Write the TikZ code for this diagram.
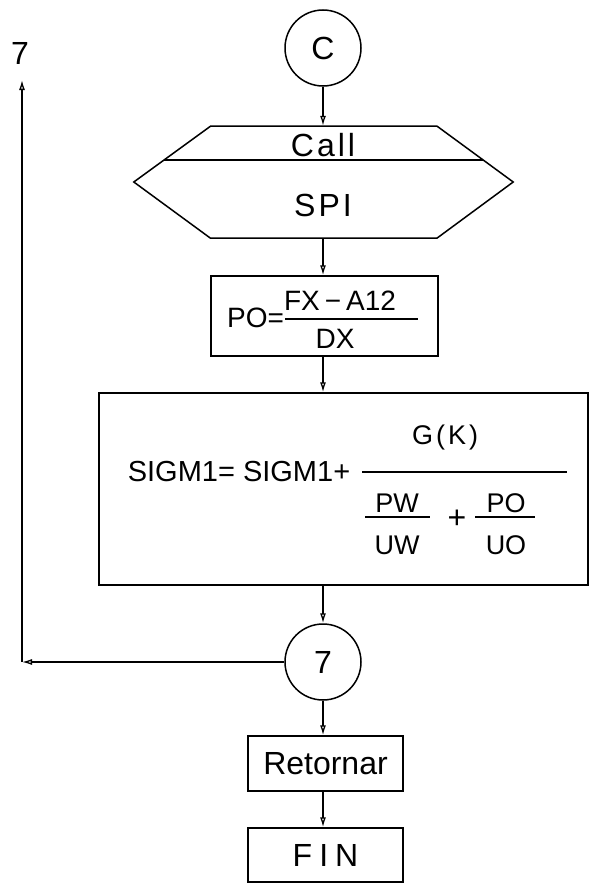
\documentclass[tikz,border=0pt]{standalone}
\usepackage{fontspec}
\setmainfont{Liberation Sans}
\usetikzlibrary{arrows.meta,calc}
\begin{document}
\begin{tikzpicture}[x=1pt,y=-1pt,
  every node/.style={inner sep=0pt},
  ln/.style={line width=1.5pt},
  box/.style={draw,line width=1.5pt,rectangle},
  conn/.style={draw,circle,line width=1.5pt,minimum size=76pt,font=\fontsize{32}{34}\selectfont},
  arr/.style={line width=1.3pt,-{Latex[open,length=10pt,width=6pt]}},
  bigtxt/.style={font=\fontsize{32}{34}\selectfont},
  medtxt/.style={font=\fontsize{28}{30}\selectfont},
  smltxt/.style={font=\fontsize{27}{29}\selectfont}]
\useasboundingbox (0,0) rectangle (595,886);

% connector C
\node[conn] (c) at (323,48) {C};

% hexagon (call SPI)
\node[minimum width=379pt,minimum height=112pt] (hex) at (323.5,182) {};
\draw[ln] (hex.west) -- ++(77,-56) -- ++(226,0) -- (hex.east) -- ++(-76,56) -- ++(-227,0) -- cycle;
\draw[ln] (164.3,160) -- (483.1,160);
\node[bigtxt] (call) at (323,145) {C\kern3pt a\kern3pt l\kern3pt l};
\node[bigtxt] (spi) at (323,205) {S\kern3pt P\kern3pt I};

% PO box
\node[box,minimum width=227pt,minimum height=80pt] (po) at (324.5,316) {};
\node[medtxt,anchor=west] (poeq) at (227,318) {PO=};
\node[medtxt] (num) at (340,301) {FX\kern5pt−\kern5pt A12};
\draw[ln] (285,319) -- (418,319);
\node[medtxt] (den) at (335,339) {DX};

% big box
\node[box,minimum width=489pt,minimum height=192pt] (bigbox) at (343.5,489) {};
\node[font=\fontsize{29}{31}\selectfont] (sig) at (239,472) {SIGM1= SIGM1+};
\draw[ln] (362,472) -- (567,472);
\node[smltxt] (gk) at (445,438) {G\kern3pt(\kern3pt K\kern3pt)};
\node[smltxt] (pw) at (397,503) {PW};
\draw[ln] (365,517) -- (430,517);
\node[smltxt] (uw) at (397,545) {UW};
\node[font=\fontsize{32}{34}\selectfont] (plus) at (457,519) {+};
\node[smltxt] (pob) at (506,503) {PO};
\draw[ln] (475,517) -- (535,517);
\node[smltxt] (uo) at (506,545) {UO};

% connector 7
\node[conn] (s7) at (323,662) {7};

% Retornar, FIN
\node[box,minimum width=155pt,minimum height=55pt,bigtxt] (ret) at (325.5,763.5) {Retornar};
\node[box,minimum width=155pt,minimum height=54pt,bigtxt] (fin) at (325.5,855) {F\kern7pt I\kern7pt N};

% label 7 at top left
\node[bigtxt] (lbl7) at (20,53) {7};
\coordinate (corner) at (22,662);
\coordinate (back) at (22,80);

% connectors
\draw[arr] (c) -- (c.south |- hex.north);
\draw[arr] (c.south |- hex.south) -- (c.south |- po.north);
\draw[arr] (c.south |- po.south) -- (c.south |- bigbox.north);
\draw[arr] (c.south |- bigbox.south) -- (s7);
\draw[arr] (s7) -- (s7.south |- ret.north);
\draw[arr] (s7.south |- ret.south) -- (s7.south |- fin.north);
\draw[arr] (s7.west) -- (corner);
\draw[arr] (corner) -- (back);
\end{tikzpicture}
\end{document}
